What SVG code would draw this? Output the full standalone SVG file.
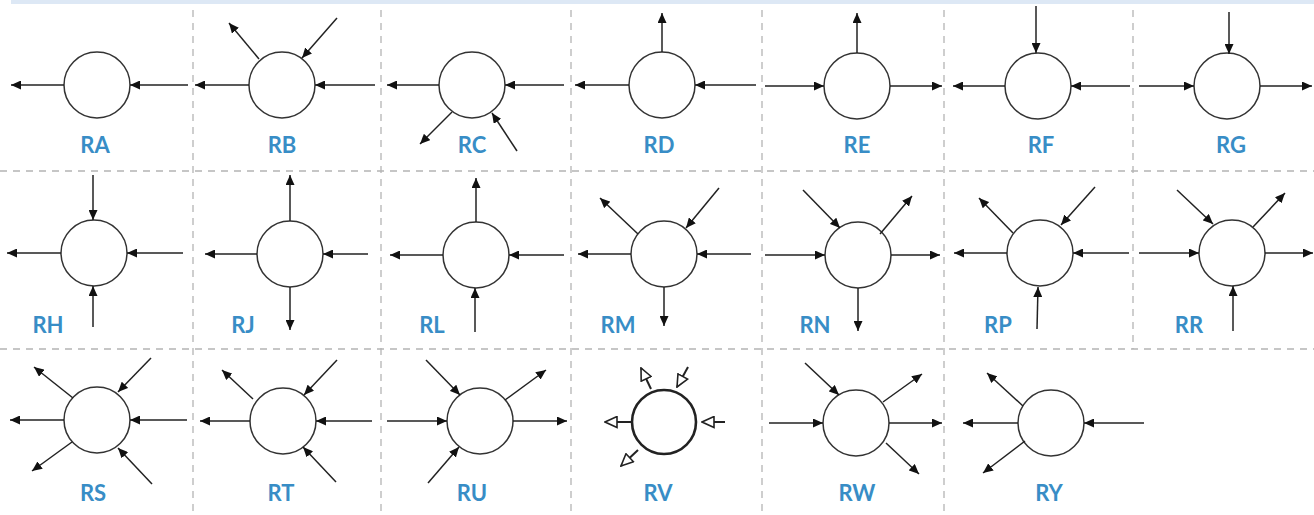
<svg xmlns="http://www.w3.org/2000/svg" width="1314" height="515" viewBox="0 0 1314 515">
  <style>
    .grid { stroke: #b4b4b4; stroke-width: 1.3; stroke-dasharray: 7 6; fill: none; }
    .node { fill: #ffffff; stroke: #333333; stroke-width: 1.5; }
    .node-bold { fill: #ffffff; stroke: #222222; stroke-width: 2.6; }
    .arrow { stroke: #222222; stroke-width: 1.5; fill: none; marker-end: url(#head); }
    .arrow-open { stroke: #222222; stroke-width: 2; fill: none; marker-end: url(#head-open); }
    .label { font-family: Lato, "Open Sans", "Liberation Sans", sans-serif; font-weight: 700; font-size: 22px; fill: #388dc6; text-anchor: middle; }
  </style>
  <defs>
    <marker id="head" viewBox="0 0 10 9" refX="10" refY="4.5" markerWidth="10" markerHeight="9" markerUnits="userSpaceOnUse" orient="auto">
      <path d="M0,0 L10,4.5 L0,9 Z" fill="#111111"/>
    </marker>
    <marker id="head-open" viewBox="0 0 14 13" refX="13" refY="6.5" markerWidth="14" markerHeight="13" markerUnits="userSpaceOnUse" orient="auto">
      <path d="M1,1 L13,6.5 L1,12 Z" fill="#ffffff" stroke="#222222" stroke-width="1.6" stroke-linejoin="miter"/>
    </marker>
  </defs>

  <rect width="1314" height="515" fill="#ffffff"/>
  <!-- header band -->
  <rect x="11" y="0" width="1303" height="4" fill="#dde8f5"/>

  <!-- cell grid -->
  <g id="grid">
    <line class="grid" x1="0" y1="171" x2="1314" y2="171"/>
    <line class="grid" x1="0" y1="349" x2="1314" y2="349"/>
    <line class="grid" x1="193" y1="10" x2="193" y2="515"/>
    <line class="grid" x1="381" y1="10" x2="381" y2="515"/>
    <line class="grid" x1="571" y1="10" x2="571" y2="515"/>
    <line class="grid" x1="762" y1="10" x2="762" y2="515"/>
    <line class="grid" x1="944" y1="10" x2="944" y2="515"/>
    <line class="grid" x1="1133" y1="10" x2="1133" y2="349"/>
  </g>

  <!-- nodes -->
  <g id="RA"><circle class="node" cx="97" cy="85" r="33"/><text class="label" x="95" y="153">RA</text></g>
  <g id="RB"><circle class="node" cx="282" cy="85" r="33"/><text class="label" x="282" y="153">RB</text></g>
  <g id="RC"><circle class="node" cx="472" cy="85" r="33"/><text class="label" x="472" y="153">RC</text></g>
  <g id="RD"><circle class="node" cx="662" cy="85" r="33"/><text class="label" x="659" y="153">RD</text></g>
  <g id="RE"><circle class="node" cx="857" cy="86" r="33"/><text class="label" x="857" y="153">RE</text></g>
  <g id="RF"><circle class="node" cx="1038" cy="86" r="33"/><text class="label" x="1041" y="153">RF</text></g>
  <g id="RG"><circle class="node" cx="1227" cy="86" r="33"/><text class="label" x="1231" y="153">RG</text></g>

  <g id="RH"><circle class="node" cx="94" cy="253" r="33"/><text class="label" x="48" y="333">RH</text></g>
  <g id="RJ"><circle class="node" cx="290" cy="254" r="33"/><text class="label" x="243" y="333">RJ</text></g>
  <g id="RL"><circle class="node" cx="476" cy="255" r="33"/><text class="label" x="432" y="333">RL</text></g>
  <g id="RM"><circle class="node" cx="664" cy="254" r="33"/><text class="label" x="618" y="333">RM</text></g>
  <g id="RN"><circle class="node" cx="858" cy="255" r="33"/><text class="label" x="815" y="333">RN</text></g>
  <g id="RP"><circle class="node" cx="1040" cy="253" r="33"/><text class="label" x="998" y="333">RP</text></g>
  <g id="RR"><circle class="node" cx="1232" cy="253" r="33"/><text class="label" x="1189" y="333">RR</text></g>

  <g id="RS"><circle class="node" cx="97" cy="420" r="33"/><text class="label" x="93" y="501">RS</text></g>
  <g id="RT"><circle class="node" cx="283" cy="421" r="33"/><text class="label" x="281" y="501">RT</text></g>
  <g id="RU"><circle class="node" cx="480" cy="421" r="33"/><text class="label" x="472" y="501">RU</text></g>
  <g id="RV"><circle class="node-bold" cx="664" cy="422" r="32"/><text class="label" x="658" y="501">RV</text></g>
  <g id="RW"><circle class="node" cx="856" cy="423" r="33"/><text class="label" x="857" y="501">RW</text></g>
  <g id="RY"><circle class="node" cx="1051" cy="423" r="33"/><text class="label" x="1049" y="501">RY</text></g>

  <!-- connectors -->
  <g id="connectors">
    <!-- RA -->
    <line class="arrow" x1="64" y1="85" x2="11" y2="85"/>
    <line class="arrow" x1="188" y1="85" x2="130" y2="85"/>
    <!-- RB -->
    <line class="arrow" x1="249" y1="85" x2="195" y2="85"/>
    <line class="arrow" x1="375" y1="85" x2="315" y2="85"/>
    <line class="arrow" x1="259" y1="59" x2="229" y2="23"/>
    <line class="arrow" x1="337" y1="18" x2="302" y2="58"/>
    <!-- RC -->
    <line class="arrow" x1="439" y1="85" x2="387" y2="85"/>
    <line class="arrow" x1="564" y1="85" x2="505" y2="85"/>
    <line class="arrow" x1="452" y1="112" x2="420" y2="144"/>
    <line class="arrow" x1="517" y1="151" x2="492" y2="113"/>
    <!-- RD -->
    <line class="arrow" x1="662" y1="52" x2="662" y2="13"/>
    <line class="arrow" x1="629" y1="85" x2="575" y2="85"/>
    <line class="arrow" x1="756" y1="85" x2="695" y2="85"/>
    <!-- RE -->
    <line class="arrow" x1="857" y1="53" x2="857" y2="13"/>
    <line class="arrow" x1="765" y1="86" x2="824" y2="86"/>
    <line class="arrow" x1="890" y1="86" x2="942" y2="86"/>
    <!-- RF -->
    <line class="arrow" x1="1036" y1="6" x2="1036" y2="53"/>
    <line class="arrow" x1="1005" y1="86" x2="953" y2="86"/>
    <line class="arrow" x1="1130" y1="86" x2="1071" y2="86"/>
    <!-- RG -->
    <line class="arrow" x1="1229" y1="12" x2="1229" y2="54"/>
    <line class="arrow" x1="1139" y1="86" x2="1194" y2="86"/>
    <line class="arrow" x1="1260" y1="86" x2="1312" y2="86"/>

    <!-- RH -->
    <line class="arrow" x1="93" y1="175" x2="93" y2="220"/>
    <line class="arrow" x1="61" y1="253" x2="7" y2="253"/>
    <line class="arrow" x1="183" y1="253" x2="127" y2="253"/>
    <line class="arrow" x1="93" y1="327" x2="93" y2="286"/>
    <!-- RJ -->
    <line class="arrow" x1="290" y1="221" x2="290" y2="175"/>
    <line class="arrow" x1="257" y1="254" x2="205" y2="254"/>
    <line class="arrow" x1="368" y1="254" x2="323" y2="254"/>
    <line class="arrow" x1="290" y1="287" x2="290" y2="330"/>
    <!-- RL -->
    <line class="arrow" x1="476" y1="222" x2="476" y2="178"/>
    <line class="arrow" x1="443" y1="255" x2="390" y2="255"/>
    <line class="arrow" x1="564" y1="255" x2="509" y2="255"/>
    <line class="arrow" x1="475" y1="332" x2="475" y2="288"/>
    <!-- RM -->
    <line class="arrow" x1="631" y1="254" x2="578" y2="254"/>
    <line class="arrow" x1="751" y1="254" x2="697" y2="254"/>
    <line class="arrow" x1="638" y1="234" x2="600" y2="198"/>
    <line class="arrow" x1="719" y1="188" x2="686" y2="228"/>
    <line class="arrow" x1="664" y1="287" x2="664" y2="326"/>
    <!-- RN -->
    <line class="arrow" x1="765" y1="255" x2="825" y2="255"/>
    <line class="arrow" x1="891" y1="255" x2="940" y2="255"/>
    <line class="arrow" x1="803" y1="190" x2="840" y2="228"/>
    <line class="arrow" x1="880" y1="234" x2="912" y2="196"/>
    <line class="arrow" x1="858" y1="288" x2="858" y2="331"/>
    <!-- RP -->
    <line class="arrow" x1="1007" y1="253" x2="954" y2="253"/>
    <line class="arrow" x1="1129" y1="253" x2="1073" y2="253"/>
    <line class="arrow" x1="1013" y1="233" x2="979" y2="198"/>
    <line class="arrow" x1="1095" y1="187" x2="1061" y2="225"/>
    <line class="arrow" x1="1037" y1="329" x2="1038" y2="287"/>
    <!-- RR -->
    <line class="arrow" x1="1139" y1="253" x2="1199" y2="253"/>
    <line class="arrow" x1="1265" y1="253" x2="1313" y2="253"/>
    <line class="arrow" x1="1177" y1="190" x2="1213" y2="224"/>
    <line class="arrow" x1="1253" y1="227" x2="1285" y2="193"/>
    <line class="arrow" x1="1233" y1="331" x2="1233" y2="286"/>

    <!-- RS -->
    <line class="arrow" x1="64" y1="420" x2="10" y2="420"/>
    <line class="arrow" x1="187" y1="420" x2="130" y2="420"/>
    <line class="arrow" x1="73" y1="398" x2="34" y2="367"/>
    <line class="arrow" x1="151" y1="358" x2="118" y2="392"/>
    <line class="arrow" x1="72" y1="442" x2="32" y2="471"/>
    <line class="arrow" x1="152" y1="484" x2="118" y2="448"/>
    <!-- RT -->
    <line class="arrow" x1="250" y1="421" x2="200" y2="421"/>
    <line class="arrow" x1="372" y1="421" x2="316" y2="421"/>
    <line class="arrow" x1="253" y1="399" x2="222" y2="370"/>
    <line class="arrow" x1="337" y1="360" x2="304" y2="395"/>
    <line class="arrow" x1="336" y1="482" x2="303" y2="447"/>
    <!-- RU -->
    <line class="arrow" x1="387" y1="421" x2="447" y2="421"/>
    <line class="arrow" x1="513" y1="421" x2="567" y2="421"/>
    <line class="arrow" x1="426" y1="360" x2="460" y2="395"/>
    <line class="arrow" x1="505" y1="400" x2="546" y2="370"/>
    <line class="arrow" x1="428" y1="483" x2="459" y2="447"/>
    <!-- RV (open heads) -->
    <line class="arrow-open" x1="631" y1="422" x2="605" y2="422"/>
    <line class="arrow-open" x1="725" y1="422" x2="702" y2="422"/>
    <line class="arrow-open" x1="651" y1="389" x2="641" y2="368"/>
    <line class="arrow-open" x1="688" y1="367" x2="677" y2="387"/>
    <line class="arrow-open" x1="638" y1="450" x2="621" y2="466"/>
    <!-- RW -->
    <line class="arrow" x1="769" y1="423" x2="823" y2="423"/>
    <line class="arrow" x1="889" y1="423" x2="942" y2="423"/>
    <line class="arrow" x1="805" y1="363" x2="839" y2="395"/>
    <line class="arrow" x1="883" y1="402" x2="922" y2="374"/>
    <line class="arrow" x1="886" y1="443" x2="919" y2="474"/>
    <!-- RY -->
    <line class="arrow" x1="1018" y1="423" x2="963" y2="423"/>
    <line class="arrow" x1="1144" y1="423" x2="1084" y2="423"/>
    <line class="arrow" x1="1023" y1="406" x2="987" y2="373"/>
    <line class="arrow" x1="1025" y1="441" x2="983" y2="473"/>
  </g>
</svg>
